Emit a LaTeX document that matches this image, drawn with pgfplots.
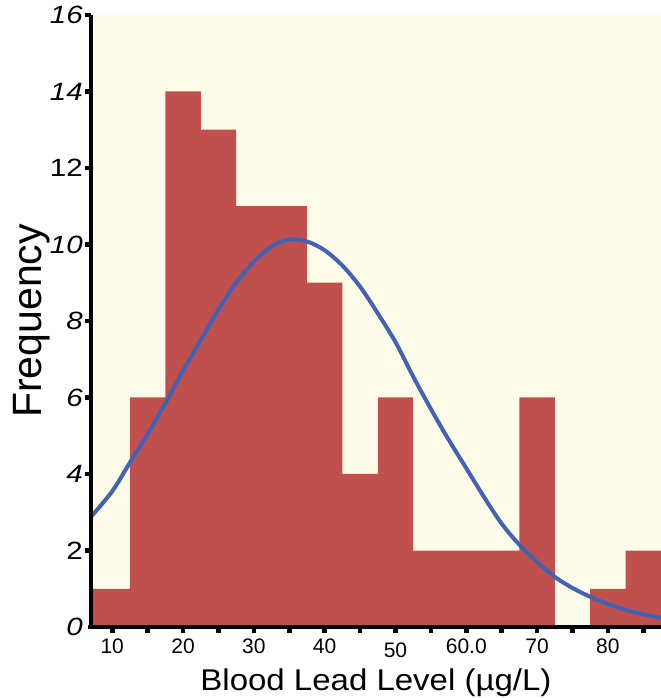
\documentclass[border=0pt]{standalone}
\usepackage{pgfplots}
\pgfplotsset{compat=1.18}
\usepackage{fontspec}
\setmainfont{Liberation Sans}
\usepackage{graphicx}
\definecolor{cream}{RGB}{254,251,233}
\definecolor{barred}{RGB}{192,80,77}
\definecolor{curveblue}{RGB}{66,99,180}
\newcommand{\sy}[1]{\scalebox{1.18}[1]{#1}}
\begin{document}
\begin{tikzpicture}
\begin{axis}[name=ax, width=570bp, height=612bp, scale only axis,
  xmin=7, xmax=87.5, ymin=0, ymax=16,
  clip=false,
  axis x line*=bottom, axis y line*=left,
  axis line style={-, draw=none},
  axis background/.style={fill=cream},
  xtick={10,20,...,80},
  xticklabels={10,20,30,40,\raisebox{-4bp}{50},60.0,70,80},
  ytick={0,2,...,16},
  yticklabels={\sy{\textit{0}},\sy{2},\sy{\textit{4}},\sy{\textit{6}},\sy{\textit{8}},\sy{\textit{10}},\sy{12},\sy{\textit{14}},\sy{\textit{16}}},
  major tick length=0pt,
  xticklabel style={font=\fontsize{21bp}{21bp}\selectfont, anchor=base, yshift=-26bp, inner sep=0pt},
  yticklabel style={font=\fontsize{25bp}{25bp}\selectfont, anchor=east, inner sep=0pt, xshift=-8bp},
  xlabel={\scalebox{1.1}[1]{Blood Lead Level (µg/L)}},
  xlabel style={font=\fontsize{30bp}{30bp}\selectfont, at={(axis description cs:0.5,-0.103)}, anchor=base, inner sep=0pt},
  ylabel={Frequency},
  ylabel style={font=\fontsize{41bp}{41bp}\selectfont, at={(axis description cs:-0.086,0.5)}, anchor=base, inner sep=0pt},
]
\addplot[ybar interval, fill=barred, draw=none] coordinates {
  (7,1) (12.5,6) (17.5,14) (22.5,13) (27.5,11) (32.5,11) (37.5,9) (42.5,4)
  (47.5,6) (52.5,2) (57.5,2) (62.5,2) (67.5,6) (72.5,0) (77.5,1) (82.5,2) (87.5,2)};
\addplot[curveblue, line width=4bp, smooth] coordinates {
  (7,2.88) (10,3.55) (12.5,4.3) (15,5.05) (17.5,5.85) (20,6.7) (22.5,7.5)
  (25,8.3) (27.5,9.0) (30,9.55) (32.5,9.95) (35,10.13) (37.5,10.08) (40,9.85)
  (42.5,9.45) (45,8.9) (47.5,8.2) (50,7.45) (52.5,6.55) (55,5.7) (57.5,4.9)
  (60,4.15) (62.5,3.4) (65,2.7) (67.5,2.15) (70,1.7) (72.5,1.31) (75,1.02)
  (77.5,0.79) (80,0.6) (82.5,0.45) (85,0.33) (87.5,0.24)};
% axis lines (filled strips) and tick dots
\fill[black] ([xshift=-2bp]axis cs:7,16) rectangle ([xshift=2bp,yshift=-2bp]axis cs:7,0);
\fill[black] ([xshift=-3bp,yshift=2bp]axis cs:7,0) rectangle ([yshift=-2bp]axis cs:87.5,0);
\pgfplotsinvokeforeach{10,15,...,85}{
  \fill[black] ([xshift=-2.3bp]axis cs:#1,0) rectangle ([xshift=2.3bp,yshift=-6bp]axis cs:#1,0);
}
\pgfplotsinvokeforeach{2,4,...,16}{
  \fill[black] ([yshift=-2.3bp]axis cs:7,#1) rectangle ([xshift=-6bp,yshift=2.3bp]axis cs:7,#1);
}
\end{axis}
\pgfresetboundingbox
\path[use as bounding box] ([shift={(-91bp,-71bp)}]ax.south west) rectangle ([yshift=15bp]ax.north east);
\end{tikzpicture}
\end{document}
